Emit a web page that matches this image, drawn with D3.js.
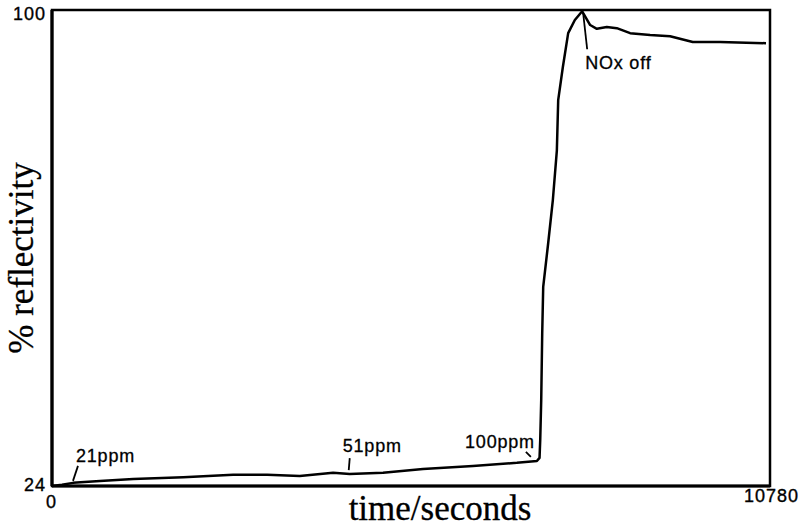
<!DOCTYPE html>
<html>
<head>
<meta charset="utf-8">
<script src="https://cdn.jsdelivr.net/npm/d3@7/dist/d3.min.js"></script>
<style>
  html, body { margin: 0; padding: 0; background: #fff; }
  svg { display: block; }
  .tick-label { font-family: "Liberation Sans", Arial, sans-serif; font-size: 18px; letter-spacing: 1px; fill: #000; stroke: #000; stroke-width: 0.35px; }
  .note { font-family: "Liberation Sans", Arial, sans-serif; font-size: 18px; letter-spacing: 0.8px; fill: #000; stroke: #000; stroke-width: 0.3px; }
  .axis-title { font-family: "Liberation Serif", "Times New Roman", serif; font-size: 35px; fill: #000; stroke: #000; stroke-width: 0.3px; }
</style>
</head>
<body>
<svg id="chart" width="801" height="528"></svg>
<script>
// Reflectivity trace over the run
const timeSeconds = [0, 150, 315, 720, 1220, 1970, 2720, 3230, 3720, 4220, 4470, 4970, 5570, 6320, 6980, 7280,
  7320, 7330, 7345, 7360, 7375, 7450, 7520, 7580, 7600, 7670, 7750, 7850, 7960,
  8080, 8180, 8330, 8480, 8680, 8980, 9280, 9620, 10030, 10720];
const reflectivity = [24.0, 24.2, 24.5, 24.8, 25.1, 25.4, 25.8, 25.8, 25.6, 26.1, 25.9, 26.1, 26.7, 27.2, 27.7, 28.0,
  28.5, 31.3, 37.7, 48.4, 55.8, 62.8, 69.7, 77.6, 85.6, 90.9, 96.3, 98.4, 99.8,
  97.6, 97.0, 97.3, 97.1, 96.3, 96.0, 95.8, 94.9, 94.9, 94.7];

// Axis ranges and the only labelled ticks
const xTicks = [0, 10780];
const yTicks = [24, 100];

// Event annotations: label and the time it refers to
const noteLabels = ["21ppm", "51ppm", "100ppm", "NOx off"];
const noteTimes = [315, 4470, 7280, 7960];

const svg = d3.select("#chart");
const margin = { left: 52, right: 31, top: 10, bottom: 42 };
const W = 801, H = 528;

const x = d3.scaleLinear().domain([xTicks[0], xTicks[1]]).range([margin.left, W - margin.right]);
const y = d3.scaleLinear().domain([yTicks[0], yTicks[1]]).range([H - margin.bottom, margin.top]);

// Frame
svg.append("rect")
  .attr("x", x(xTicks[0])).attr("y", y(yTicks[1]))
  .attr("width", x(xTicks[1]) - x(xTicks[0]))
  .attr("height", y(yTicks[0]) - y(yTicks[1]))
  .attr("fill", "none").attr("stroke", "#000").attr("stroke-width", 2.5);

// Thicker left and bottom edges
svg.append("line")
  .attr("x1", x(0)).attr("x2", x(0)).attr("y1", y(100)).attr("y2", y(24))
  .attr("stroke", "#000").attr("stroke-width", 3.2);
svg.append("line")
  .attr("x1", x(0)).attr("x2", x(10780)).attr("y1", y(24)).attr("y2", y(24))
  .attr("stroke", "#000").attr("stroke-width", 3);

// Y axis labels
const yAxis = d3.axisLeft(y).tickValues(yTicks).tickSize(0).tickPadding(6);
const gy = svg.append("g").attr("transform", `translate(${x(0)},0)`).call(yAxis);
gy.select(".domain").remove();
gy.selectAll("text").attr("class", "tick-label").attr("font-size", null).attr("font-family", null)
  .attr("dy", (d) => d === yTicks[0] ? "0.25em" : "0.5em");

// X axis labels
const xAxis = d3.axisBottom(x).tickValues(xTicks).tickSize(0).tickPadding(5).tickFormat(d3.format("d"));
const gx = svg.append("g").attr("transform", `translate(0,${y(24)})`).call(xAxis);
gx.select(".domain").remove();
gx.selectAll("text").attr("class", "tick-label").attr("font-size", null).attr("font-family", null)
  .attr("dx", (d) => d === 0 ? "-1" : "1")
  .attr("dy", (d) => d === 0 ? "0.95em" : "0.6em");

// Trace
const line = d3.line().x((d, i) => x(timeSeconds[i])).y((d) => y(d));
svg.append("path")
  .datum(reflectivity)
  .attr("d", line)
  .attr("fill", "none")
  .attr("stroke", "#000")
  .attr("stroke-width", 2.5)
  .attr("stroke-linejoin", "round");

// Annotations with short leader lines
function valueAt(t) {
  const i = timeSeconds.indexOf(t);
  return reflectivity[i];
}
const noteStyle = [
  { lead: [[0, -2], [5, -17]], text: [3, -21], anchor: "start" },
  { lead: [[-1, -4], [0, -16]], text: [-7, -22], anchor: "start" },
  { lead: [[-6, -4], [-11, -9]], text: [-2, -13], anchor: "end" },
  { lead: [[1, 2], [5, 38]], text: [3, 58], anchor: "start" }
];
noteLabels.forEach((label, i) => {
  const px = x(noteTimes[i]), py = y(valueAt(noteTimes[i]));
  const s = noteStyle[i];
  svg.append("line")
    .attr("x1", px + s.lead[0][0]).attr("y1", py + s.lead[0][1])
    .attr("x2", px + s.lead[1][0]).attr("y2", py + s.lead[1][1])
    .attr("stroke", "#000").attr("stroke-width", 1.8);
  svg.append("text")
    .attr("class", "note")
    .attr("x", px + s.text[0]).attr("y", py + s.text[1])
    .attr("text-anchor", s.anchor)
    .text(label);
});

// Axis titles
svg.append("text").attr("class", "axis-title")
  .attr("x", (x(0) + x(10780)) / 2 + 29).attr("y", 520)
  .attr("text-anchor", "middle")
  .text("time/seconds");
svg.append("text").attr("class", "axis-title")
  .attr("transform", `translate(33,${(y(24) + y(100)) / 2 + 10}) rotate(-90)`)
  .attr("text-anchor", "middle")
  .text("% reflectivity");
</script>
</body>
</html>
